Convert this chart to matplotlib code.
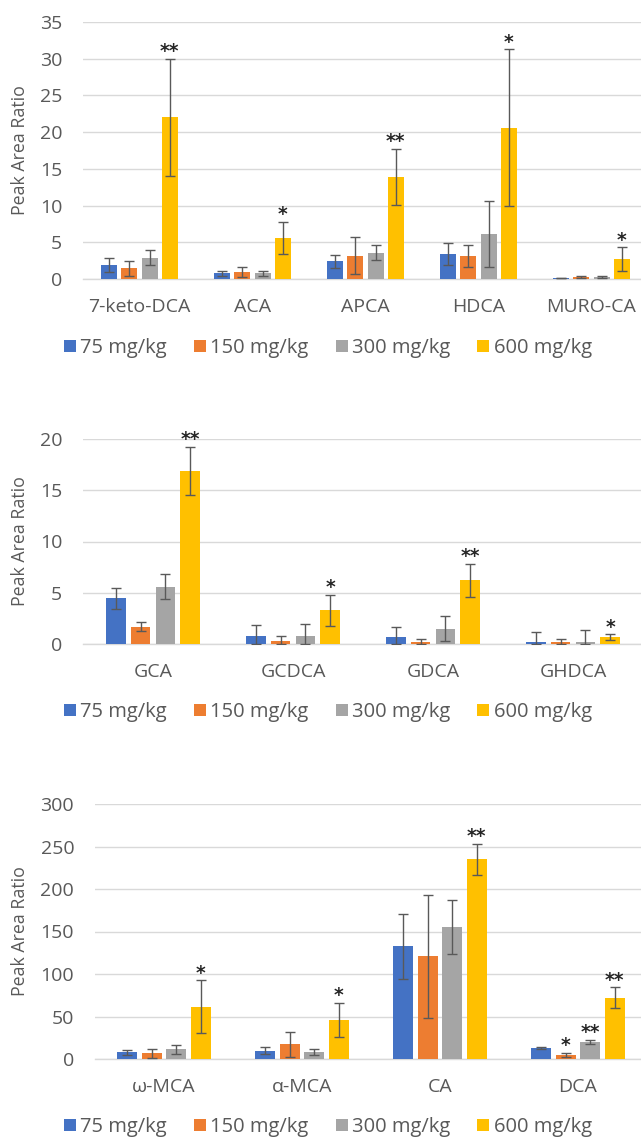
import matplotlib
matplotlib.use("Agg")
import matplotlib.pyplot as plt
from matplotlib.patches import Patch
import numpy as np

plt.rcParams['font.family'] = ['Open Sans', 'DejaVu Sans']

doses = ["75 mg/kg", "150 mg/kg", "300 mg/kg", "600 mg/kg"]
colors = ["#4472C4", "#ED7D31", "#A5A5A5", "#FFC000"]

# Panel A: secondary / minor bile acids
cats_a = ["7-keto-DCA", "ACA", "APCA", "HDCA", "MURO-CA"]
mean_a_75 = [1.85, 0.75, 2.4, 3.4, 0.15]
mean_a_150 = [1.45, 0.95, 3.2, 3.1, 0.25]
mean_a_300 = [2.9, 0.75, 3.6, 6.1, 0.25]
mean_a_600 = [22.0, 5.6, 13.9, 20.6, 2.7]
err_a_75 = [0.95, 0.35, 0.9, 1.5, 0.05]
err_a_150 = [1.05, 0.65, 2.5, 1.5, 0.1]
err_a_300 = [1.0, 0.35, 1.05, 4.5, 0.1]
err_a_600 = [8.0, 2.2, 3.8, 10.7, 1.6]
stars_a_600 = ["**", "*", "**", "*", "*"]

# Panel B: glycine conjugates
cats_b = ["GCA", "GCDCA", "GDCA", "GHDCA"]
mean_b_75 = [4.45, 0.8, 0.65, 0.15]
mean_b_150 = [1.7, 0.3, 0.15, 0.15]
mean_b_300 = [5.6, 0.8, 1.5, 0.15]
mean_b_600 = [16.9, 3.3, 6.2, 0.65]
err_b_75 = [1.0, 1.1, 1.0, 1.0]
err_b_150 = [0.4, 0.45, 0.35, 0.35]
err_b_300 = [1.25, 1.2, 1.25, 1.25]
err_b_600 = [2.35, 1.5, 1.6, 0.3]
stars_b_600 = ["**", "*", "**", "*"]

# Panel C: primary / major bile acids
cats_c = ["\u03c9-MCA", "\u03b1-MCA", "CA", "DCA"]
mean_c_75 = [8.0, 9.8, 132.6, 12.5]
mean_c_150 = [6.6, 17.2, 121.0, 5.0]
mean_c_300 = [11.3, 8.2, 155.6, 20.3]
mean_c_600 = [61.6, 46.4, 234.8, 72.0]
err_c_75 = [3.0, 4.5, 38.0, 1.3]
err_c_150 = [5.0, 14.7, 72.5, 2.2]
err_c_300 = [5.5, 3.5, 32.0, 2.4]
err_c_600 = [31.0, 20.0, 18.0, 12.5]
stars_c_150 = ["", "", "", "*"]
stars_c_300 = ["", "", "", "**"]
stars_c_600 = ["*", "*", "**", "**"]

W, H = 641, 1140
fig = plt.figure(figsize=(W / 100, H / 100), dpi=100)

TEXT = "#595959"
GRID = "#D9D9D9"


def panel(rect_px, cats, means, errs, stars, ymax, ystep, legend_y):
    left, right, bottom, top = rect_px
    ax = fig.add_axes([left / W, 1 - bottom / H, (right - left) / W, (bottom - top) / H])
    x = np.arange(len(cats))
    pitch = 0.178
    width = 0.142
    for i in range(4):
        m = np.array(means[i], dtype=float)
        e = np.array(errs[i], dtype=float)
        lower = np.minimum(e, m)
        xs = x + (i - 1.5) * pitch
        ax.bar(xs, m, width, color=colors[i], zorder=3)
        ax.errorbar(xs, m, yerr=[lower, e], fmt="none", ecolor="#595959",
                    elinewidth=1.0, capsize=3.8, capthick=1.0, zorder=4)
        if stars[i] is not None:
            for xx, mm, ee, s in zip(xs, m, e, stars[i]):
                if s:
                    ax.annotate(s, (xx, mm + ee), xytext=(0, 1.2), textcoords="offset points",
                                ha="center", va="baseline", fontsize=13.5, fontweight="bold",
                                family="DejaVu Sans", color="#262626", zorder=5)
    ax.set_xlim(-0.5, len(cats) - 0.5)
    ax.set_ylim(0, ymax)
    ax.set_yticks(np.arange(0, ymax + ystep / 2, ystep))
    ax.set_xticks(x)
    ax.set_xticklabels(cats)
    ax.yaxis.grid(True, color=GRID, linewidth=1.0, zorder=0)
    ax.set_axisbelow(True)
    for s in ("top", "right", "left"):
        ax.spines[s].set_visible(False)
    ax.spines["bottom"].set_color(GRID)
    ax.spines["bottom"].set_linewidth(1.0)
    ax.tick_params(axis="both", length=0, colors=TEXT, labelsize=14)
    ax.tick_params(axis="y", pad=15)
    ax.tick_params(axis="x", pad=14)
    fig.text(20.5 / W, 1 - (top + bottom) / 2 / H, "Peak Area Ratio", rotation=90,
             ha="center", va="center", color=TEXT, fontsize=12.8)
    handles = [Patch(facecolor=c) for c in colors]
    fig.legend(handles, doses, loc="center", bbox_to_anchor=(328 / W, 1 - legend_y / H),
               ncol=4, frameon=False, fontsize=14.5, labelcolor=TEXT,
               handlelength=0.6, handleheight=0.6, handletextpad=0.2, columnspacing=1.35,
               borderpad=0.2)
    return ax


ax1 = panel((83, 648, 279, 22), cats_a,
            [mean_a_75, mean_a_150, mean_a_300, mean_a_600],
            [err_a_75, err_a_150, err_a_300, err_a_600],
            [None, None, None, stars_a_600], 35, 5, 348)
ax2 = panel((83, 643, 644, 439), cats_b,
            [mean_b_75, mean_b_150, mean_b_300, mean_b_600],
            [err_b_75, err_b_150, err_b_300, err_b_600],
            [None, None, None, stars_b_600], 20, 5, 712)
ax3 = panel((95, 647, 1059, 804), cats_c,
            [mean_c_75, mean_c_150, mean_c_300, mean_c_600],
            [err_c_75, err_c_150, err_c_300, err_c_600],
            [None, stars_c_150, stars_c_300, stars_c_600], 300, 50, 1127)

fig.savefig("out.png", dpi=100, facecolor="white")
